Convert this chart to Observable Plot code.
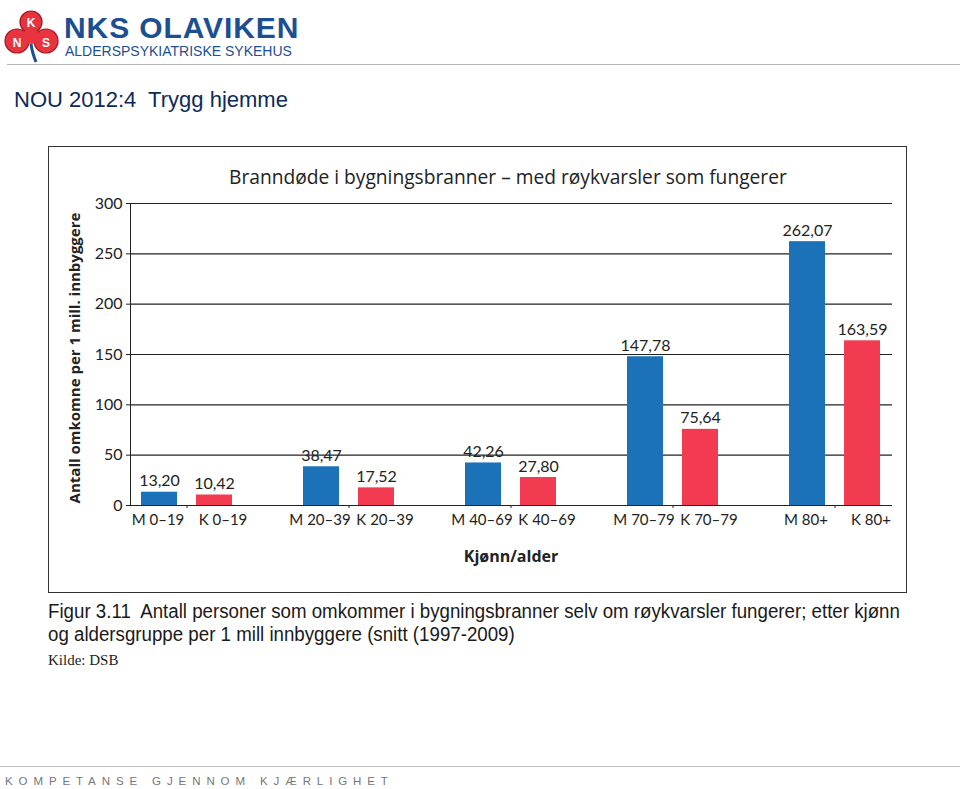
<!DOCTYPE html>
<html>
<head>
<meta charset="utf-8">
<script src="https://cdn.jsdelivr.net/npm/d3@7"></script>
<script src="https://cdn.jsdelivr.net/npm/@observablehq/plot@0.6"></script>
<style>
  html, body { margin: 0; padding: 0; background: #fff; }
  #page { position: relative; width: 960px; height: 789px; overflow: hidden; font-family: "Open Sans", sans-serif; }
  .abs { position: absolute; white-space: nowrap; line-height: 1.1; }
  #brand { left: 64px; top: 11px; font-family: "Liberation Sans", Arial, sans-serif; font-weight: bold; font-size: 30px; color: #1c4f92; letter-spacing: 0.9px; }
  #brand2 { left: 65px; top: 44px; font-family: "Liberation Sans", Arial, sans-serif; font-size: 14px; color: #1c4f92; letter-spacing: 0px; }
  #hline { left: 7px; top: 64px; width: 953px; height: 0; border-top: 1.5px solid #b5b5b5; }
  #slideTitle { left: 14px; top: 88px; font-family: "Liberation Sans", Arial, sans-serif; font-size: 22px; color: #0f2a5a; }
  #box { left: 48px; top: 146px; width: 859px; height: 447px; border: 1.5px solid #333; box-sizing: border-box; }
  #chartTitle { left: 229px; top: 166px; font-size: 19.2px; color: #222; }
  #ylabel { left: 74px; top: 358px; font-size: 15px; font-weight: bold; color: #222; transform: translate(-50%, -50%) rotate(-90deg); }
  #xlabel { left: 511px; top: 557px; font-size: 16px; font-weight: bold; color: #222; transform: translate(-50%, -50%); }
  .cap { left: 48px; font-family: "Liberation Sans", Arial, sans-serif; font-size: 19.5px; color: #1a1a1a; transform-origin: 0 0; transform: scaleX(0.959); line-height: 1; }
  #kilde { left: 48px; top: 652px; font-family: "Liberation Serif", serif; font-size: 15px; color: #222; }
  #fline { left: 0; top: 766px; width: 960px; height: 0; border-top: 1.5px solid #c0c0c0; }
  #footer { left: 5px; top: 775px; font-family: "Liberation Sans", Arial, sans-serif; font-size: 11.5px; letter-spacing: 5.9px; color: #777; }
  #plot { position: absolute; left: 0; top: 0; }
</style>
</head>
<body>
<div id="page">
  <div id="plot"></div>
  <svg class="abs" style="left:4px;top:10px" width="58" height="54" viewBox="0 0 58 54">
    <path d="M27 34 C 28 42, 30 47, 32 52" stroke="#1c4f92" stroke-width="3" fill="none"/>
    <circle cx="27" cy="12" r="11" fill="#e8343f" stroke="#a01822" stroke-width="1.2"/>
    <circle cx="13" cy="31" r="12" fill="#e8343f" stroke="#a01822" stroke-width="1.2"/>
    <circle cx="42" cy="31" r="12" fill="#e8343f" stroke="#a01822" stroke-width="1.2"/>
    <circle cx="27" cy="26" r="8" fill="#e8343f"/>
    <text x="27" y="17" text-anchor="middle" font-family="Liberation Sans" font-weight="bold" font-size="12" fill="#fff">K</text>
    <text x="13" y="37" text-anchor="middle" font-family="Liberation Sans" font-weight="bold" font-size="12" fill="#fff">N</text>
    <text x="42" y="37" text-anchor="middle" font-family="Liberation Sans" font-weight="bold" font-size="12" fill="#fff">S</text>
  </svg>
  <div id="brand" class="abs">NKS OLAVIKEN</div>
  <div id="brand2" class="abs">ALDERSPSYKIATRISKE SYKEHUS</div>
  <div id="hline" class="abs"></div>
  <div id="slideTitle" class="abs">NOU 2012:4&nbsp; Trygg hjemme</div>
  <div id="box" class="abs"></div>
  <div id="chartTitle" class="abs">Branndøde i bygningsbranner – med røykvarsler som fungerer</div>
  <div id="ylabel" class="abs">Antall omkomne per 1 mill. innbyggere</div>
  <div id="xlabel" class="abs">Kjønn/alder</div>
  <div class="abs cap" style="top:602px">Figur 3.11&nbsp; Antall personer som omkommer i bygningsbranner selv om røykvarsler fungerer; etter kjønn</div>
  <div class="abs cap" style="top:625px">og aldersgruppe per 1 mill innbyggere (snitt (1997-2009)</div>
  <div id="kilde" class="abs">Kilde: DSB</div>
  <div id="fline" class="abs"></div>
  <div id="footer" class="abs">KOMPETANSE GJENNOM KJÆRLIGHET</div>
</div>
<script>
const groups = ["0–19", "20–39", "40–69", "70–79", "80+"];
const sexes = ["M", "K"];
const menValues = [13.20, 38.47, 42.26, 147.78, 262.07];
const womenValues = [10.42, 17.52, 27.80, 75.64, 163.59];
const yTicks = [0, 50, 100, 150, 200, 250, 300];
const sexColors = {M: "#1b72b8", K: "#f23a50"};

const rows = groups.flatMap((g, i) => [
  {group: g, sex: "M", value: menValues[i]},
  {group: g, sex: "K", value: womenValues[i]}
]);
const men = rows.filter(d => d.sex === "M");
const women = rows.filter(d => d.sex === "K");
const fmt = v => v.toFixed(2).replace(".", ",");

const chart = Plot.plot({
  width: 960,
  height: 600,
  marginTop: 203,
  marginBottom: 95,
  marginLeft: 130,
  marginRight: 68,
  style: {background: "transparent", fontFamily: "Lato, sans-serif", fontSize: "16px", color: "#222"},
  x: {domain: groups, paddingInner: 0.325, paddingOuter: 0, label: null, tickSize: 3, tickFormat: () => ""},
  y: {domain: [0, 300], ticks: yTicks, tickSize: 4, tickPadding: 4, label: null, line: true},
  marks: [
    Plot.gridY(yTicks, {stroke: "#222", strokeOpacity: 1, strokeWidth: 1.1}),
    Plot.barY(men, {x: "group", y: "value", fill: sexColors.M, insetLeft: 9, insetRight: 64}),
    Plot.barY(women, {x: "group", y: "value", fill: sexColors.K, insetLeft: 64, insetRight: 9}),
    Plot.text(men, {x: "group", y: "value", text: d => fmt(d.value), dx: -27.5, dy: -6, lineAnchor: "bottom", fill: "#222"}),
    Plot.text(women, {x: "group", y: "value", text: d => fmt(d.value), dx: 27.5, dy: -6, lineAnchor: "bottom", fill: "#222"}),
    Plot.text(men, {x: "group", frameAnchor: "bottom", text: d => d.sex + " " + d.group, dx: -29, dy: 19, fontSize: 15, fill: "#222"}),
    Plot.text(women, {x: "group", frameAnchor: "bottom", text: d => d.sex + " " + d.group, dx: 36, dy: 19, fontSize: 15, fill: "#222"})
  ]
});
document.getElementById("plot").appendChild(chart);
</script>
</body>
</html>
